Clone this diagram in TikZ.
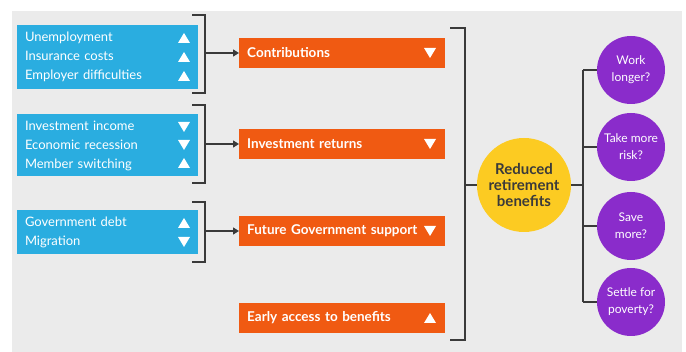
\documentclass[tikz,border=0pt]{standalone}
\usepackage{fontspec}
\setmainfont{Lato}
\usetikzlibrary{arrows.meta}
\definecolor{panelgrey}{HTML}{EBEBEB}
\definecolor{factorblue}{HTML}{2AADE0}
\definecolor{effectorange}{HTML}{F05A12}
\definecolor{outcomeyellow}{HTML}{FCCB22}
\definecolor{choicepurple}{HTML}{8A2CCB}
\definecolor{linkgrey}{HTML}{3A3A3A}
\newcommand\upmark[1]{\fill[white,shift={(#1)}] (-6,5) -- (6,5) -- (0,-5) -- cycle;}
\newcommand\dnmark[1]{\fill[white,shift={(#1)}] (-6,-5) -- (6,-5) -- (0,5) -- cycle;}
\tikzset{
  factor/.style={fill=factorblue, text=white, text width=165pt, inner xsep=8pt,
    minimum height=#1, align=left, font=\fontsize{13}{19}\selectfont},
  effect/.style={fill=effectorange, text=white, anchor=west, text width=190pt,
    inner xsep=8pt, minimum height=30pt, align=left, font=\fontsize{13.5}{15}\selectfont\bfseries},
  link/.style={draw=linkgrey, line width=1.4pt},
}

\begin{document}
\begin{tikzpicture}[x=1pt, y=-1pt]
  \useasboundingbox (0,0) rectangle (686,352);
  \fill[white] (0,0) rectangle (686,352);
  \fill[panelgrey] (12,11) rectangle (682,352);

  %%% causes
  \node[factor=64pt] (work) at (107.5,57) {Unemployment\\Insurance costs\\Employer difficulties};
  \node[factor=62pt] (markets) at (107.5,145.5) {Investment income\\Economic recession\\Member switching};
  \node[factor=44pt] (state) at (107.5,232.5) {Government debt\\Migration};

  \upmark{184,38} \upmark{184,57} \upmark{184,76}
  \dnmark{184,127} \dnmark{184,145} \upmark{184,163}
  \upmark{184,223} \dnmark{184,242}

  %%% effects
  \node[effect] (contrib) at (239,53) {Contributions};
  \node[effect] (returns) at (239,144) {Investment returns};
  \node[effect] (support) at (239,231) {Future Government support};
  \node[effect] (early) at (239,318) {Early access to benefits};

  \dnmark{430,53} \dnmark{430,144} \dnmark{430,231} \upmark{430,318}

  %%% brackets
  \draw[link] (192,15) -- (205,15) -- (205,93) -- (192,93);
  \draw[link] (192,105) -- (205,105) -- (205,183) -- (192,183);
  \draw[link] (192,202) -- (205,202) -- (205,262) -- (192,262);
  \coordinate (b1) at (205,53);
  \coordinate (b2) at (205,144);
  \coordinate (b3) at (205,231);
  \draw[link, -{Triangle[length=6pt, width=7pt]}] (b1) -- (contrib.west);
  \draw[link, -{Triangle[length=6pt, width=7pt]}] (b2) -- (returns.west);
  \draw[link, -{Triangle[length=6pt, width=7pt]}] (b3) -- (support.west);

  %%% outcome
  \node[circle, fill=outcomeyellow, minimum size=94pt, inner sep=0pt, align=center,
    text=linkgrey, font=\fontsize{15}{16}\selectfont\bfseries] (reduced) at (524,185)
    {Reduced\\retirement\\benefits};
  \draw[link] (450,28) -- (465,28) -- (465,340) -- (450,340);
  \coordinate (hub) at (465,185);
  \draw[link] (hub) -- (reduced.west);

  %%% choices
  \foreach \name/\y/\txt in {longer/70/{Work\\longer?}, risk/147/{Take more\\risk?},
      save/226/{Save\\more?}, settle/302/{Settle for\\poverty?}} {
    \node[circle, fill=choicepurple, minimum size=68pt, inner sep=0pt, align=center,
      text=white, font=\fontsize{12}{17}\selectfont] (\name) at (631,\y) {\txt};
  }
  \coordinate (fork) at (583,185);
  \draw[link] (reduced.east) -- (fork);
  \draw[link] (583,70) -- (583,302);
  \foreach \name in {longer, risk, save, settle}
    \draw[link] (\name.west -| fork) -- (\name.west);
\end{tikzpicture}
\end{document}
